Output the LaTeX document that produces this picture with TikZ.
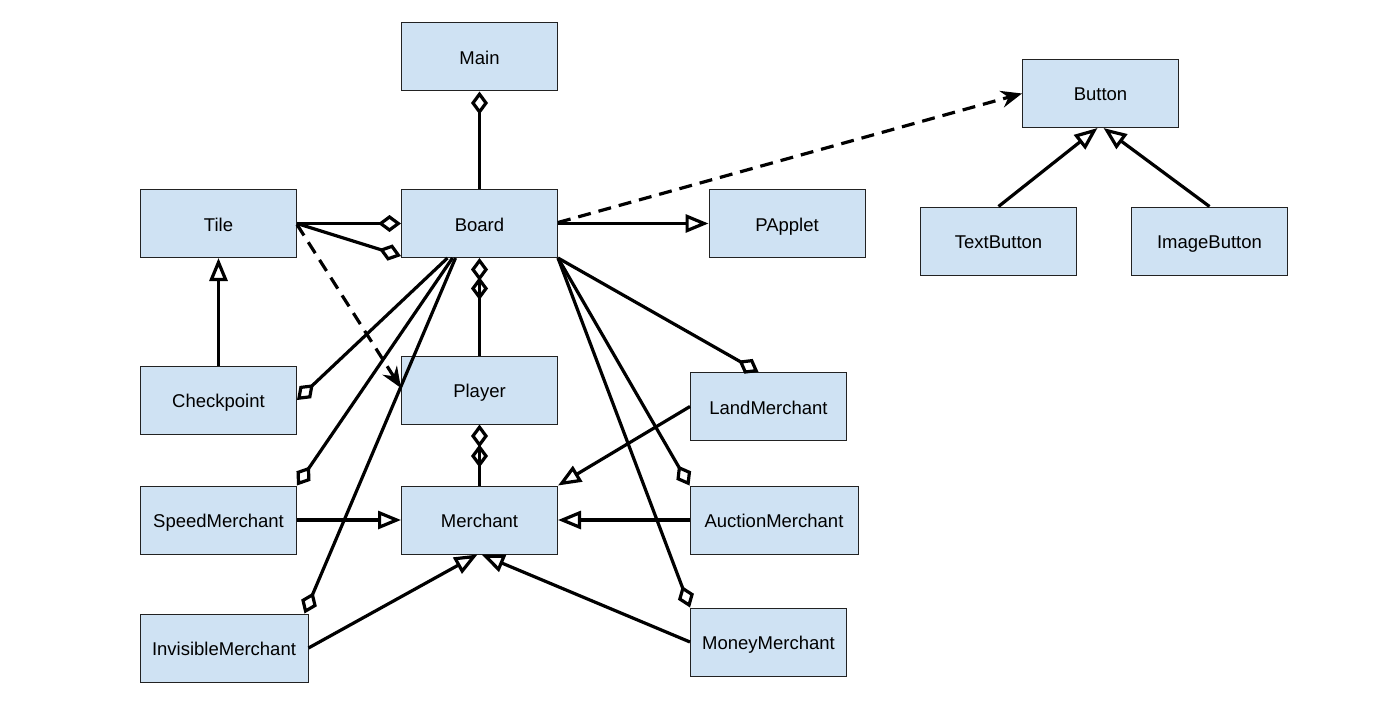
\documentclass[tikz,border=0pt]{standalone}
\usepackage{fontspec}
\setmainfont{Liberation Sans}
\usetikzlibrary{arrows.meta}
\definecolor{boxfill}{HTML}{CFE2F3}
\definecolor{boxline}{HTML}{222222}
\begin{document}
\begin{tikzpicture}[x=1pt,y=-1pt,
  cls/.style={draw=boxline, line width=1pt, fill=boxfill, minimum width=156pt, minimum height=68pt, inner sep=0pt, text height=16pt, text depth=1pt, font=\fontsize{18.5}{22}\selectfont},
  wide/.style={minimum width=168pt},
  conn/.style={line width=3.2pt, draw=black},
  inh/.style={conn, -{Triangle[open, length=23pt, width=18pt]}},
  agg/.style={conn, -{Diamond[open, length=23pt, width=17pt]}},
  dep/.style={conn, dash pattern=on 13pt off 8pt, -{Stealth[length=21pt, width=17pt, inset=7pt]}}]
\useasboundingbox (0,0) rectangle (1388,706);
\node[cls] (main) at (479.5,57) {Main};
\node[cls] (button) at (1100.5,93.5) {Button};
\node[cls] (tile) at (218.5,223.5) {Tile};
\node[cls] (board) at (479.5,223.5) {Board};
\node[cls] (papplet) at (787,223.5) {PApplet};
\node[cls] (textbutton) at (998.5,241) {TextButton};
\node[cls] (imagebutton) at (1209.5,241) {ImageButton};
\node[cls] (checkpoint) at (218.5,400) {Checkpoint};
\node[cls] (player) at (479.5,390) {Player};
\node[cls] (land) at (768.5,406.5) {LandMerchant};
\node[cls] (speed) at (218.5,520) {SpeedMerchant};
\node[cls] (merchant) at (479.5,520) {Merchant};
\node[cls,wide] (auction) at (774,520) {AuctionMerchant};
\node[cls,wide] (invisible) at (224,648) {InvisibleMerchant};
\node[cls] (money) at (768.5,642) {MoneyMerchant};

\coordinate (boardb2) at ([yshift=-19pt]board.south);
\coordinate (playerb2) at ([yshift=-20pt]player.south);

% aggregations
\draw[agg] (board.north) -- (main.south);
\draw[agg] (player.north) -- (boardb2);
\draw[agg] (player.north) -- (board.south);
\draw[agg] (merchant.north) -- (playerb2);
\draw[agg] (merchant.north) -- (player.south);
\draw[agg] (tile.east) -- (board.west);
\draw[agg] (tile.east) -- ([yshift=2pt]board.south west);
\draw[agg] ([xshift=-32pt]board.south) -- (checkpoint.east);
\draw[agg] ([xshift=-27pt]board.south) -- (speed.north east);
\draw[agg] ([xshift=-24pt]board.south) -- ([xshift=-4pt]invisible.north east);
\draw[agg] (board.south east) -- ([xshift=-10pt]land.north);
\draw[agg] (board.south east) -- (auction.north west);
\draw[agg] (board.south east) -- (money.north west);

% inheritance
\draw[inh] (checkpoint.north) -- (tile.south);
\draw[inh] (board.east) -- (papplet.west);
\draw[inh] (textbutton.north) -- ([xshift=-3pt]button.south);
\draw[inh] (imagebutton.north) -- ([xshift=3pt]button.south);
\draw[inh] (land.west) -- (merchant.north east);
\draw[inh] (auction.west) -- (merchant.east);
\draw[inh] (speed.east) -- (merchant.west);
\draw[inh] (invisible.east) -- ([xshift=-2pt]merchant.south);
\draw[inh] (money.west) -- ([xshift=2pt]merchant.south);

% dependencies
\draw[dep] ([yshift=-1pt]tile.east) -- ([yshift=2pt]player.west);
\draw[dep] ([yshift=1pt]board.east) -- (button.west);
\end{tikzpicture}
\end{document}
